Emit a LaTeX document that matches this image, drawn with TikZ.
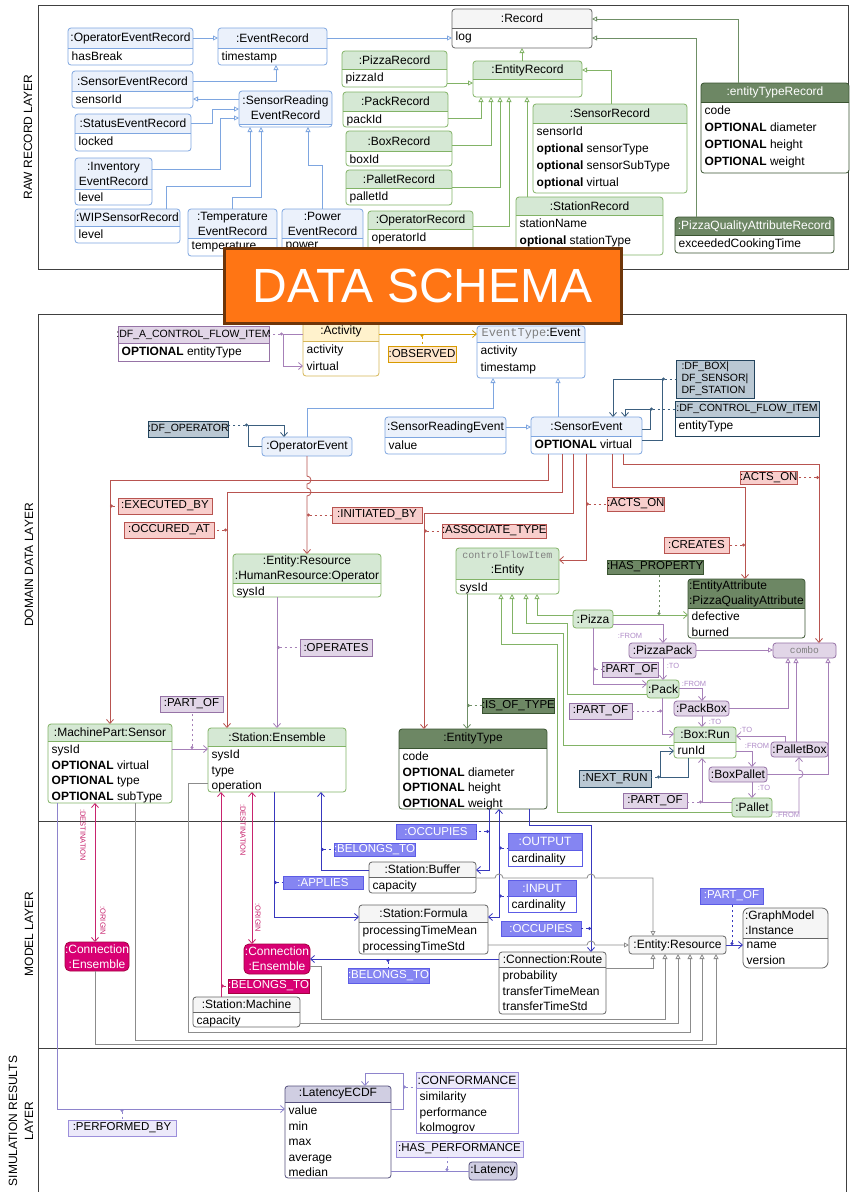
\documentclass[tikz,border=0pt]{standalone}
\usepackage{fontspec}
\setmainfont{Liberation Sans}
\setmonofont{Liberation Mono}
\usetikzlibrary{arrows.meta}
\definecolor{bluB}{HTML}{7EA6E0}\definecolor{bluF}{HTML}{EBF1FB}\definecolor{bluT}{HTML}{000000}
\definecolor{grnB}{HTML}{82B366}\definecolor{grnF}{HTML}{D5E8D4}\definecolor{grnT}{HTML}{000000}
\definecolor{dgrB}{HTML}{3A5431}\definecolor{dgrF}{HTML}{6D8764}\definecolor{dgrT}{HTML}{000000}
\definecolor{dgwB}{HTML}{3A5431}\definecolor{dgwF}{HTML}{6D8764}\definecolor{dgwT}{HTML}{FFFFFF}
\definecolor{purB}{HTML}{9673A6}\definecolor{purF}{HTML}{E1D5E7}\definecolor{purT}{HTML}{000000}
\definecolor{yelB}{HTML}{D6B656}\definecolor{yelF}{HTML}{FFF2CC}\definecolor{yelT}{HTML}{000000}
\definecolor{orgB}{HTML}{D79B00}\definecolor{orgF}{HTML}{FFE6CC}\definecolor{orgT}{HTML}{000000}
\definecolor{redB}{HTML}{B85450}\definecolor{redF}{HTML}{F8CECC}\definecolor{redT}{HTML}{000000}
\definecolor{gbB}{HTML}{23445D}\definecolor{gbF}{HTML}{BAC8D3}\definecolor{gbT}{HTML}{000000}
\definecolor{gryB}{HTML}{666666}\definecolor{gryF}{HTML}{F5F5F5}\definecolor{gryT}{HTML}{000000}
\definecolor{magB}{HTML}{A50040}\definecolor{magF}{HTML}{D80073}\definecolor{magT}{HTML}{FFFFFF}
\definecolor{mbB}{HTML}{5C5CE6}\definecolor{mbF}{HTML}{8585F2}\definecolor{mbT}{HTML}{FFFFFF}
\definecolor{lavB}{HTML}{56517E}\definecolor{lavF}{HTML}{D0CEE2}\definecolor{lavT}{HTML}{000000}
\definecolor{lvtB}{HTML}{9C8FDB}\definecolor{lvtF}{HTML}{ECE9FA}\definecolor{lvtT}{HTML}{000000}
\definecolor{tgray}{HTML}{808080}
\definecolor{dgL}{HTML}{6F8F66}
\definecolor{purL}{HTML}{A680B8}
\definecolor{purTx}{HTML}{B08CC8}
\definecolor{yelL}{HTML}{D6A000}
\definecolor{gbL}{HTML}{3B5F7F}
\definecolor{magL}{HTML}{C8246E}
\definecolor{mbL}{HTML}{3838BE}
\definecolor{gyL}{HTML}{8C8C8C}
\definecolor{sL}{HTML}{8E84CC}
\definecolor{bannerF}{HTML}{FF7514}
\definecolor{bannerB}{HTML}{6E3509}
\newcommand\hfs{\fontsize{12}{15}\selectfont}
\newcommand\lfs{\fontsize{11.5}{13}\selectfont}
\newcommand\sfs{\fontsize{10.5}{12}\selectfont}
\newcommand\tfs{\fontsize{7.5}{9}\selectfont}
\newcommand\bskip{17}
\newcommand\bfs{\fontsize{12}{\bskip}\selectfont}
\newcommand\ubr{3pt}
\newcommand\UB[9]{%
  \begin{scope}
    \clip[rounded corners=\ubr] (#2,#3) rectangle (#4,#6);
    \fill[white] (#2,#3) rectangle (#4,#6);
    \fill[#7F] (#2,#3) rectangle (#4,#5);
  \end{scope}
  \draw[#7B, line width=0.8pt, rounded corners=\ubr] (#2,#3) rectangle (#4,#6);
  \draw[#7B, line width=0.8pt] (#2,#5) -- (#4,#5);
  \node[inner sep=0, outer sep=0, minimum width={#4-#2}, minimum height={#6-#3}, anchor=north west] (#1) at (#2,#3) {};
  \node[inner sep=0, text=#7T, align=center, font=\hfs] at ({(#2+#4)/2},{(#3+#5)/2}) {#8};
  \node[inner sep=0, anchor=north west, align=left, font=\bfs] at ({#2+3.5},{#5+4}) {#9};
}
\newcommand\SB[8][]{%
  \node[draw=#7B, fill=#7F, text=#7T, line width=0.8pt, inner sep=0, outer sep=0, minimum width={#5-#3}, minimum height={#6-#4}, anchor=north west, align=center, font=\lfs, #1] (#2) at (#3,#4) {#8};
}
\begin{document}
\begin{tikzpicture}[x=1pt,y=-1pt,
  ln/.style={line width=0.8pt},
  cB/.style={ln, draw=bluB},
  cG/.style={ln, draw=grnB},
  cDG/.style={ln, draw=dgL},
  cR/.style={ln, draw=redB},
  cP/.style={ln, draw=purL},
  cY/.style={ln, draw=yelL},
  cGB/.style={ln, draw=gbL},
  cM/.style={ln, draw=magL},
  cMB/.style={ln, draw=mbL},
  cGY/.style={ln, draw=gyL},
  cS/.style={ln, draw=sL},
  asc/.style={-{Straight Barb[length=4pt,width=7pt]}},
  asctwo/.style={{Straight Barb[length=4pt,width=7pt]}-{Straight Barb[length=4pt,width=7pt]}},
  inh/.style={-{Triangle[open,length=5pt,width=5pt,fill=white]}},
  dl/.style={dash pattern=on 2.5pt off 2.5pt, {Circle[length=3pt]}-},
  frame/.style={draw=black!75, line width=0.9pt},
  rb/.style={rounded corners=3pt, font=\hfs},
  tx/.style={font=\tfs, inner sep=0},
  laylab/.style={font=\fontsize{12}{16}\selectfont, rotate=90, align=center}]
\useasboundingbox (0,0) rectangle (859,1192);
\fill[white] (0,0) rectangle (859,1192);
% ---------------- frames
\draw[frame] (38,5) rectangle (848,269);
\draw[frame] (38,1192) -- (38,314) -- (846,314) -- (846,1192);
\draw[frame] (38,821) -- (846,821);
\draw[frame] (38,1048) -- (846,1048);
\node[laylab] (layA) at (28,137) {RAW RECORD LAYER};
\node[laylab] (layB) at (29,565) {DOMAIN DATA LAYER};
\node[laylab] (layC) at (29,934) {MODEL LAYER};
\node[laylab] (layD) at (21,1121) {SIMULATION RESULTS\\LAYER};
% ---------------- raw record layer
\UB{oer}{68}{28}{193}{48}{65}{blu}{:OperatorEventRecord}{hasBreak}
\UB{er}{218}{28}{327}{48}{65}{blu}{:EventRecord}{timestamp}
\UB{ser}{72}{71}{193}{91}{108}{blu}{:SensorEventRecord}{sensorId}
\UB{srer}{239}{91}{332}{124}{127}{blu}{:SensorReading\\EventRecord}{}
\UB{ster}{75}{114}{191}{133}{151}{blu}{:StatusEventRecord}{locked}
\UB{ier}{75}{158}{152}{189}{205}{blu}{:Inventory\\EventRecord}{level}
\UB{wip}{75}{209}{180}{226}{243}{blu}{:WIPSensorRecord}{level}
\UB{ter}{188}{209}{277}{238}{256}{blu}{:Temperature\\EventRecord}{temperature}
\UB{per}{282}{209}{363}{238}{256}{blu}{:Power\\EventRecord}{power}
\UB{pzr}{342}{51}{447}{69}{87}{grn}{:PizzaRecord}{pizzaId}
\UB{pkr}{343}{92}{448}{111}{127}{grn}{:PackRecord}{packId}
\UB{bxr}{346}{131}{452}{151}{166}{grn}{:BoxRecord}{boxId}
\UB{plr}{346}{170}{452}{188}{205}{grn}{:PalletRecord}{palletId}
\UB{opr}{368}{211}{473}{229}{255}{grn}{:OperatorRecord}{operatorId}
\UB{rec}{452}{9}{592}{28}{48}{gry}{:Record}{log}
\UB{enr}{473}{61}{582}{79}{97}{grn}{:EntityRecord}{}
\UB{snr}{533}{104}{687}{123}{193}{grn}{:SensorRecord}{sensorId\\\textbf{optional} sensorType\\\textbf{optional} sensorSubType\\\textbf{optional} virtual}
\UB{str}{516}{197}{663}{215}{255}{grn}{:StationRecord}{stationName\\\textbf{optional} stationType}
\UB{etr}{701}{83}{849}{102}{173}{dgw}{:entityTypeRecord}{code\\\textbf{OPTIONAL} diameter\\\textbf{OPTIONAL} height\\\textbf{OPTIONAL} weight}
\UB{pqr}{675}{217}{834}{235}{253}{dgw}{:PizzaQualityAttributeRecord}{exceededCookingTime}
% raw connectors
\draw[cB,inh] (oer.east |- 0,38) -- (er.west |- 0,38);
\draw[cB,inh] (er.east |- 0,38) -- (rec.west |- 0,38);
\draw[cB,inh] (ser.east |- 0,81) -- (276,81) -- (276,0 |- er.south);
\draw[cB,inh] (srer.west |- 0,99) -- (ser.east |- 0,99);
\draw[cB,inh] (ster.east |- 0,123) -- (212,123) -- (212,109) -- (srer.west |- 0,109);
\draw[cB,inh] (ier.east |- 0,169) -- (220,169) -- (220,118) -- (srer.west |- 0,118);
\draw[cB,inh] (166,0 |- wip.north) -- (166,186) -- (250,186) -- (250,0 |- srer.south);
\draw[cB,inh] (232,0 |- ter.north) -- (232,197) -- (261,197) -- (261,0 |- srer.south);
\draw[cB,inh] (322,0 |- per.north) -- (322,165) -- (308,165) -- (308,0 |- srer.south);
\draw[cG,inh] (522,0 |- enr.north) -- (522,0 |- rec.south);
\draw[cG,inh] (pzr.east |- 0,83) -- (enr.west |- 0,83);
\draw[cG,inh] (pkr.east |- 0,118) -- (481,118) -- (481,0 |- enr.south);
\draw[cG,inh] (bxr.east |- 0,145) -- (491,145) -- (491,0 |- enr.south);
\draw[cG,inh] (plr.east |- 0,187) -- (500,187) -- (500,0 |- enr.south);
\draw[cG,inh] (opr.east |- 0,226) -- (509,226) -- (509,0 |- enr.south);
\draw[cG,inh] (527,0 |- str.north) -- (527,0 |- enr.south);
\draw[cG,inh] (611,0 |- snr.north) -- (611,70) -- (enr.east |- 0,70);
\draw[cDG,inh] (738,0 |- etr.north) -- (738,19) -- (rec.east |- 0,19);
\draw[cDG,inh] (696,0 |- pqr.north) -- (696,38) -- (rec.east |- 0,38);
% ---------------- domain data layer
{\renewcommand\ubr{0pt}\UB{dfa}{118}{326}{269}{343}{361}{pur}{{\sfs :DF\_A\_CONTROL\_FLOW\_ITEM}}{\textbf{OPTIONAL} entityType}}
\UB{act}{303}{322}{379}{341}{376}{yel}{:Activity}{activity\\virtual}
\SB{obs}{388}{346}{456}{362}{org}{:OBSERVED}
\UB{evt}{477}{326}{585}{342}{378}{blu}{{\ttfamily\color{tgray}EventType}:Event}{activity\\timestamp}
\renewcommand\bskip{15.5}
\UB{sre}{385}{417}{506}{437}{454}{blu}{:SensorReadingEvent}{value}
\UB{sev}{531}{417}{642}{436}{454}{blu}{:SensorEvent}{\textbf{OPTIONAL} virtual}
\SB[rb]{ope}{262}{437}{352}{456}{blu}{:OperatorEvent}
\SB[font=\sfs]{dfo}{148}{421}{228}{437}{gb}{:DF\_OPERATOR}
\SB[font=\sfs, align=left]{dfb}{676}{360}{754}{398}{gb}{:DF\_BOX|\\DF\_SENSOR|\\DF\_STATION}
{\renewcommand\ubr{0pt}\UB{dfc}{675}{401}{819}{417}{436}{gb}{{\sfs :DF\_CONTROL\_FLOW\_ITEM}}{entityType}}
\UB{hr}{233}{554}{381}{583}{597}{grn}{:Entity:Resource\\:HumanResource:Operator}{sysId}
\UB{mps}{48}{724}{172}{741}{803}{grn}{:MachinePart:Sensor}{sysId\\\textbf{OPTIONAL} virtual\\\textbf{OPTIONAL} type\\\textbf{OPTIONAL} subType}
\UB{sen}{208}{728}{346}{746}{792}{grn}{:Station:Ensemble}{sysId\\type\\operation}
\UB{ety}{399}{729}{547}{748}{809}{dgr}{:EntityType}{code\\\textbf{OPTIONAL} diameter\\\textbf{OPTIONAL} height\\\textbf{OPTIONAL} weight}
\UB{ent}{456}{548}{559}{579}{594}{grn}{{\ttfamily\color{tgray}\fontsize{10}{15}\selectfont controlFlowItem}\\:Entity}{sysId}
\UB{eat}{688}{579}{805}{608}{638}{dgr}{\parbox{115pt}{\raggedright :EntityAttribute\\:PizzaQualityAttribute}}{defective\\burned}
\SB[rb]{pz}{573}{610}{613}{628}{grn}{:Pizza}
\SB[rb]{pk}{647}{680}{679}{698}{grn}{:Pack}
\SB[rb]{pp}{629}{643}{696}{658}{pur}{:PizzaPack}
\SB[rb]{cmb}{773}{643}{836}{658}{pur}{{\ttfamily\color{tgray}\fontsize{9.7}{11}\selectfont combo}}
\SB[rb]{pb}{674}{701}{729}{716}{pur}{:PackBox}
\UB{br}{674}{727}{736}{742}{758}{grn}{:Box:Run}{runId}
\SB[rb]{plb}{771}{742}{828}{757}{pur}{:PalletBox}
\SB[rb]{bp}{709}{767}{767}{782}{pur}{:BoxPallet}
\SB[rb]{pl}{732}{798}{772}{817}{grn}{:Pallet}
% labels
\SB{lexe}{118}{498}{212}{514}{red}{:EXECUTED\_BY}
\SB{locc}{124}{522}{214}{538}{red}{:OCCURED\_AT}
\SB{lini}{332}{507}{422}{523}{red}{:INITIATED\_BY}
\SB{lass}{442}{524}{544}{538}{red}{:ASSOCIATE\_TYPE}
\SB{lactA}{607}{497}{663}{511}{red}{:ACTS\_ON}
\SB{lactB}{740}{471}{797}{484}{red}{:ACTS\_ON}
\SB{lcre}{664}{537}{729}{553}{red}{:CREATES}
\SB{lhp}{607}{560}{701}{574}{dgr}{:HAS\_PROPERTY}
\SB{lit}{482}{698}{552}{713}{dgr}{:IS\_OF\_TYPE}
\SB{lop}{300}{639}{372}{656}{pur}{:OPERATES}
\SB{lpoA}{160}{696}{223}{712}{pur}{:PART\_OF}
\SB{lpoB}{602}{662}{658}{677}{pur}{:PART\_OF}
\SB{lpoC}{569}{703}{632}{719}{pur}{:PART\_OF}
\SB{lpoD}{623}{793}{687}{808}{pur}{:PART\_OF}
\SB{lnr}{579}{770}{651}{787}{gb}{:NEXT\_RUN}
% domain connectors
\draw[cP,asc] (act.west |- 0,334) -- (283,334) -- (283,366) -- (act.west |- 0,366);
\draw[cP,dl] (283,334) -- (dfa.east |- 0,334);
\draw[cY,asc] (act.east |- 0,334) -- (evt.west |- 0,334);
\draw[cY,dl] (422,334) -- (422,0 |- obs.north);
\draw[cB,inh] (307,0 |- ope.north) -- (307,408) -- (493,408) -- (493,0 |- evt.south);
\draw[cB,inh] (558,0 |- sev.north) -- (558,0 |- evt.south);
\draw[cB,inh] (sre.east |- 0,427) -- (sev.west |- 0,427);
\draw[cGB,asc] (ope.west |- 0,446) -- (248,446) -- (248,425) -- (284,425) -- (284,0 |- ope.north);
\draw[cGB,dl] (248,425) -- (dfo.east |- 0,425);
\draw[cGB,asc] (sev.east |- 0,440) -- (662,440) -- (662,379) -- (613,379) -- (613,0 |- sev.north);
\draw[cGB,dl] (662,379) -- (dfb.west |- 0,379);
\draw[cGB,asc] (sev.east |- 0,429) -- (650,429) -- (650,409) -- (625,409) -- (625,0 |- sev.north);
\draw[cGB,dl] (650,409) -- (dfc.west |- 0,409);
\draw[cR,asc] (548,0 |- sev.south) -- (548,480) -- (110,480) -- (110,0 |- mps.north);
\draw[cR,asc] (562,0 |- sev.south) -- (562,492) -- (227,492) -- (227,0 |- sen.north);
\draw[cR,asc] (573,0 |- sev.south) -- (573,513) -- (424,513) -- (424,0 |- ety.north);
\draw[cR,asc] (586,0 |- sev.south) -- (586,560) -- (ent.east |- 0,560);
\draw[cR,asc] (612,0 |- sev.south) -- (612,487) -- (745,487) -- (745,0 |- eat.north);
\draw[cR,asc] (623,0 |- sev.south) -- (623,464) -- (819,464) -- (819,0 |- cmb.north);
\draw[cR,asc] (307,0 |- ope.south) -- (307,476) arc[start angle=90,end angle=-90,radius=4pt] -- (307,488) arc[start angle=90,end angle=-90,radius=4pt] -- (307,0 |- hr.north);
\draw[cR,dl] (lexe.west -| 110,0) -- (lexe.west);
\draw[cR,dl] (locc.east -| 227,0) -- (locc.east);
\draw[cR,dl] (lini.west -| 307,0) -- (lini.west);
\draw[cR,dl] (lass.west -| 424,0) -- (lass.west);
\draw[cR,dl] (lactA.west -| 586,0) -- (lactA.west);
\draw[cR,dl] (lactB.east -| 819,0) -- (lactB.east);
\draw[cR,dl] (lcre.east -| 745,0) -- (lcre.east);
\draw[cP,asc] (277,0 |- hr.south) -- (277,0 |- sen.north);
\draw[cP,dl] (lop.west -| 277,0) -- (lop.west);
\draw[cP,asc] (mps.east |- 0,749) -- (sen.west |- 0,749);
\draw[cP,dl] (192,749) -- (192,0 |- lpoA.south);
\draw[cDG,asc] (467,0 |- ent.south) -- (467,0 |- ety.north);
\draw[cDG,dl] (lit.west -| 467,0) -- (lit.west);
\draw[cG,asc] (pz.east |- 0,615) -- (eat.west |- 0,615);
\draw[cDG,dl] (659,615) -- (659,0 |- lhp.south);
\draw[cG,inh] (pz.west |- 0,615) -- (537,615) -- (537,0 |- ent.south);
\draw[cG,inh] (pk.west |- 0,694) -- (567,694) -- (567,623) -- (526,623) -- (526,0 |- ent.south);
\draw[cG,inh] (br.west |- 0,745) -- (563,745) -- (563,633) -- (512,633) -- (512,0 |- ent.south);
\draw[cG,inh] (pl.west |- 0,812) -- (557,812) -- (557,644) -- (501,644) -- (501,0 |- ent.south);
\draw[cP,asc] (pz.east |- 0,624) -- (663,624) -- (663,0 |- pp.north);
\draw[cP,asc] (663,0 |- pp.south) -- (663,0 |- pk.north);
\draw[cP,asc] (593,0 |- pz.south) -- (593,684) -- (pk.west |- 0,684);
\draw[cP,dl] (593,669) -- (lpoB.west |- 0,669);
\draw[cP,inh] (pp.east |- 0,650) -- (cmb.west |- 0,650);
\draw[cP,asc] (pk.east |- 0,688) -- (702,688) -- (702,0 |- pb.north);
\draw[cP,asc] (702,0 |- pb.south) -- (702,0 |- br.north);
\draw[cP,inh] (pb.east |- 0,708) -- (788,708) -- (788,0 |- cmb.south);
\draw[cP,asc] (662,0 |- pk.south) -- (662,734) -- (br.west |- 0,734);
\draw[cP,dl] (662,711) -- (lpoC.east |- 0,711);
\draw[cP,asc] (785,0 |- plb.north) -- (785,736) -- (br.east |- 0,736);
\draw[cP,asc] (br.east |- 0,751) -- (752,751) -- (752,0 |- bp.north);
\draw[cP,inh] (796,0 |- plb.north) -- (796,0 |- cmb.south);
\draw[cP,inh] (bp.east |- 0,774) -- (828,774) -- (828,0 |- cmb.south);
\draw[cP,asc] (752,0 |- bp.south) -- (752,0 |- pl.north);
\draw[cP,asc] (pl.east |- 0,812) -- (799,812) -- (799,778) arc[start angle=-90,end angle=90,radius=4pt] -- (799,0 |- plb.south);
\draw[cP,asc] (pl.west |- 0,802) -- (702,802) -- (702,0 |- br.south);
\draw[cP,dl] (702,802) -- (lpoD.east |- 0,802);
\draw[cGB,asc] (688,0 |- br.south) -- (688,777) -- (660,777) -- (660,751) -- (br.west |- 0,751);
\draw[cGB,dl] (660,777) -- (lnr.east |- 0,777);
\node[tx,text=purTx] (tA) at (630,636) {:FROM};
\node[tx,text=purTx] (tB) at (673,666) {:TO};
\node[tx,text=purTx] (tC) at (694,684) {:FROM};
\node[tx,text=purTx] (tD) at (715,722) {:TO};
\node[tx,text=purTx] (tE) at (746,730) {:TO};
\node[tx,text=purTx] (tF) at (757,746) {:FROM};
\node[tx,text=purTx] (tG) at (764,788) {:TO};
\node[tx,text=purTx] (tH) at (788,815) {:FROM};
% ---------------- model layer
\UB{smc}{193}{997}{300}{1012}{1027}{gry}{:Station:Machine}{capacity}
\UB{sbf}{369}{862}{476}{877}{893}{gry}{:Station:Buffer}{capacity}
\UB{sfo}{359}{905}{488}{922}{954}{gry}{:Station:Formula}{processingTimeMean\\processingTimeStd}
\UB{crt}{499}{952}{606}{967}{1014}{gry}{:Connection:Route}{probability\\transferTimeMean\\transferTimeStd}
\SB[rb]{eres}{629}{936}{726}{954}{gry}{:Entity:Resource}
{\renewcommand\ubr{6pt}\UB{gmi}{743}{908}{828}{938}{968}{gry}{\parbox{81pt}{\raggedright :GraphModel\\:Instance}}{name\\version}}
\SB[rounded corners=5pt,font=\hfs]{ceA}{65}{942}{125}{971}{mag}{:Connection\\:Ensemble}
\SB[rounded corners=5pt,font=\hfs]{ceB}{244}{944}{310}{974}{mag}{:Connection\\:Ensemble}
{\renewcommand\ubr{0pt}\UB{out}{508}{833}{582}{850}{866}{mb}{:OUTPUT}{cardinality}}
{\renewcommand\ubr{0pt}\UB{inp}{508}{880}{576}{896}{912}{mb}{:INPUT}{cardinality}}
\SB{loccA}{396}{824}{476}{839}{mb}{:OCCUPIES}
\SB{lbtA}{334}{843}{414}{856}{mb}{:BELONGS\_TO}
\SB{lapp}{283}{876}{363}{889}{mb}{:APPLIES}
\SB{loccB}{501}{921}{581}{936}{mb}{:OCCUPIES}
\SB{lbtC}{348}{968}{427}{983}{mb}{:BELONGS\_TO}
\SB{lpoE}{700}{888}{763}{904}{mb}{:PART\_OF}
\SB{lbtB}{228}{979}{308}{993}{mag}{:BELONGS\_TO}
% model connectors
\draw[cM,asctwo] (95,0 |- mps.south) -- (95,0 |- ceA.north);
\node[tx,text=magL,rotate=-90] (tI) at (83,835) {:DESTINATION};
\node[tx,text=magL,rotate=-90] (tJ) at (103,921) {:ORIGIN};
\draw[cM,asctwo] (252,0 |- sen.south) -- (252,0 |- ceB.north);
\node[tx,text=magL,rotate=-90] (tK) at (243,830) {:DESTINATION};
\node[tx,text=magL,rotate=-90] (tL) at (258,918) {:ORIGIN};
\draw[cM,asc] (221,0 |- smc.north) -- (221,0 |- sen.south);
\draw[cM,dl] (lbtB.west -| 221,0) -- (lbtB.west);
\draw[cMB,asc] (274,0 |- sen.south) -- (274,917) -- (sfo.west |- 0,917);
\draw[cMB,dl] (lapp.west -| 274,0) -- (lapp.west);
\draw[cMB,asc] (sbf.west |- 0,870) -- (321,870) -- (321,0 |- sen.south);
\draw[cMB,dl] (lbtA.west -| 321,0) -- (lbtA.west);
\draw[cMB,asc] (489,0 |- ety.south) -- (489,870) -- (sbf.east |- 0,870);
\draw[cMB,dl] (loccA.east -| 489,0) -- (loccA.east);
\draw[cMB,asctwo] (499,0 |- ety.south) -- (499,917) -- (sfo.east |- 0,917);
\draw[cMB,dl] (499,848) -- (out.west |- 0,848);
\draw[cMB,dl] (499,896) -- (inp.west |- 0,896);
\draw[cMB,asc] (529,0 |- ety.south) -- (529,825) -- (591,825) -- (591,0 |- crt.north);
\draw[cMB,dl] (loccB.east -| 591,0) -- (loccB.east);
\draw[cMB,asc] (crt.west |- 0,959) -- (ceB.east |- 0,959);
\draw[cMB,dl] (388,959) -- (388,0 |- lbtC.north);
\draw[cMB,asc] (eres.east |- 0,945) -- (gmi.west |- 0,945);
\draw[cMB,dl] (732,945) -- (732,0 |- lpoE.south);
\draw[cGY,inh] (sbf.east |- 0,878) -- (495,878) arc[start angle=180,end angle=0,radius=4pt] -- (587,878) arc[start angle=180,end angle=0,radius=4pt] -- (653,878) -- (653,0 |- eres.north);
\draw[cGY,inh] (sfo.east |- 0,945) -- (587,945) arc[start angle=180,end angle=0,radius=4pt] -- (eres.west |- 0,945);
\draw[cGY,inh] (crt.east |- 0,968) -- (653,968) -- (653,0 |- eres.south);
\draw[cGY,inh] (ceB.east |- 0,966) -- (321,966) -- (321,1019) -- (665,1019) -- (665,0 |- eres.south);
\draw[cGY,inh] (smc.east |- 0,1023) -- (678,1023) -- (678,0 |- eres.south);
\draw[cGY,inh] (sen.west |- 0,783) -- (188,783) -- (188,1032) -- (690,1032) -- (690,0 |- eres.south);
\draw[cGY,inh] (135,0 |- mps.south) -- (135,1040) -- (702,1040) -- (702,0 |- eres.south);
\draw[cGY,inh] (95,0 |- ceA.south) -- (95,1044) -- (716,1044) -- (716,0 |- eres.south);
% ---------------- simulation layer
\UB{lec}{285}{1086}{391}{1102}{1178}{lav}{:LatencyECDF}{value\\min\\max\\average\\median}
{\renewcommand\ubr{0pt}\UB{conf}{416}{1072}{518}{1088}{1133}{lvt}{:CONFORMANCE}{similarity\\performance\\kolmogrov}}
\SB{lpb}{68}{1120}{176}{1136}{lvt}{:PERFORMED\_BY}
\SB{lhpf}{396}{1141}{523}{1157}{lvt}{:HAS\_PERFORMANCE}
\SB[rb]{lat}{469}{1162}{517}{1180}{lav}{:Latency}
\draw[cS,asc] (57,0 |- mps.south) -- (57,1109) -- (lec.west |- 0,1109);
\draw[cS,dl] (122,1109) -- (122,0 |- lpb.north);
\draw[cS,asc] (lec.east |- 0,1109) -- (403,1109) -- (403,1073) -- (365,1073) -- (365,0 |- lec.north);
\draw[cS,dl] (403,1087) -- (conf.west |- 0,1087);
\draw[cS] (lec.east |- 0,1171) -- (lat.west |- 0,1171);
\draw[cS,dl] (447,1171) -- (447,0 |- lhpf.south);
% ---------------- banner
\node[draw=bannerB, line width=2.5pt, fill=bannerF, text=white, inner sep=0, minimum width=397, minimum height=75, anchor=north west, font=\fontsize{48}{56}\selectfont] (banner) at (223,247) {DATA SCHEMA};
\end{tikzpicture}
\end{document}
